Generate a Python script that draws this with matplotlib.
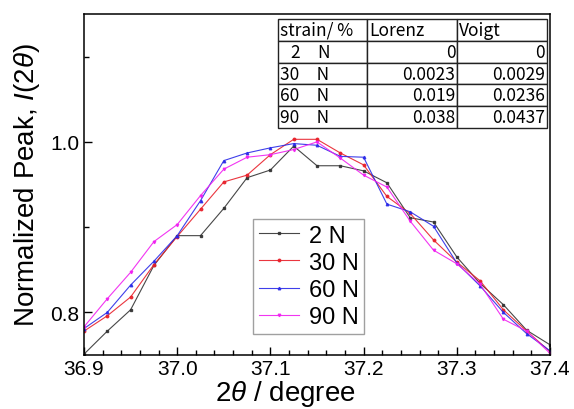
import numpy as np
import matplotlib
matplotlib.use("Agg")
import matplotlib.pyplot as plt
from matplotlib.ticker import MultipleLocator

# ─── Data ──────────────────────────────────────────────────────────────────────

two_theta = [36.900, 36.925, 36.950, 36.975, 37.000, 37.025, 37.050,
             37.075, 37.100, 37.125, 37.150, 37.175, 37.200, 37.225,
             37.250, 37.275, 37.300, 37.325, 37.350, 37.375, 37.400]

peak_2N  = [0.751, 0.778, 0.803, 0.855, 0.890, 0.890, 0.922, 0.958, 0.967,
            0.995, 0.972, 0.972, 0.966, 0.952, 0.911, 0.906, 0.865, 0.834,
            0.809, 0.779, 0.762]
peak_30N = [0.778, 0.796, 0.818, 0.856, 0.889, 0.921, 0.953, 0.961, 0.985,
            1.003, 1.003, 0.987, 0.973, 0.936, 0.916, 0.885, 0.859, 0.837,
            0.803, 0.778, 0.754]
peak_60N = [0.781, 0.800, 0.832, 0.860, 0.890, 0.931, 0.978, 0.987, 0.993,
            0.998, 0.996, 0.983, 0.982, 0.927, 0.918, 0.901, 0.858, 0.831,
            0.800, 0.775, 0.755]
peak_90N = [0.783, 0.816, 0.847, 0.883, 0.903, 0.937, 0.968, 0.982, 0.985,
            0.991, 1.000, 0.981, 0.961, 0.947, 0.907, 0.873, 0.857, 0.833,
            0.792, 0.778, 0.752]

series_labels = ["2 N", "30 N", "60 N", "90 N"]
series_colors = ["#333333", "#e8202a", "#2a2ae8", "#f020f0"]
series_markers = ["s", "o", "^", "v"]

# strain table
table_header = ["strain/ %", "Lorenz", "Voigt"]
table_rows   = [["\u20072\u3000N", "0", "0"],
                ["30\u3000N", "0.0023", "0.0029"],
                ["60\u3000N", "0.019", "0.0236"],
                ["90\u3000N", "0.038", "0.0437"]]

# ─── Plot ──────────────────────────────────────────────────────────────────────

plt.rcParams["font.family"] = ["Liberation Sans", "DejaVu Sans"]
plt.rcParams["mathtext.fontset"] = "custom"
plt.rcParams["mathtext.rm"] = "Liberation Sans"
plt.rcParams["mathtext.it"] = "Liberation Sans:italic"

fig = plt.figure(figsize=(5.74, 4.10), dpi=100)
ax = fig.add_axes([84 / 574, 54 / 410, 466 / 574, 341 / 410])

for y, lab, c, m in zip([peak_2N, peak_30N, peak_60N, peak_90N],
                        series_labels, series_colors, series_markers):
    ax.plot(two_theta, y, color=c, lw=0.8, marker=m, ms=1.8,
            mec=c, mfc=c, label=lab, alpha=0.9)

ax.set_xlim(36.9, 37.4)
ax.set_ylim(0.75, 1.15)
ax.xaxis.set_major_locator(MultipleLocator(0.1))
ax.xaxis.set_minor_locator(MultipleLocator(0.02))
ax.yaxis.set_major_locator(MultipleLocator(0.2))
ax.yaxis.set_minor_locator(MultipleLocator(0.1))
ax.tick_params(which="both", direction="in", top=False, right=False,
               labelsize=15, width=1.0)
ax.tick_params(which="major", length=6)
ax.tick_params(which="minor", length=3.5)
ax.tick_params(axis="x", pad=3)
ax.set_xticklabels([f"{v:.1f}" for v in ax.get_xticks()])
ax.set_yticks([0.8, 1.0])
ax.set_yticklabels(["0.8", "1.0"])
for sp in ax.spines.values():
    sp.set_linewidth(1.1)

ax.set_xlabel(r"2$\theta$ / degree", fontsize=20)
ax.xaxis.set_label_coords(0.433, -0.068)
ax.set_ylabel(r"Normalized Peak, $I$(2$\theta$)", fontsize=20, labelpad=6)

leg = ax.legend(loc="upper left", bbox_to_anchor=(0.363, 0.40),
                fontsize=17, frameon=True, fancybox=False,
                edgecolor="#888888", handlelength=1.7, handletextpad=0.4,
                labelspacing=0.22, borderpad=0.25, borderaxespad=0)
leg.get_frame().set_linewidth(1.0)

tbl = ax.table(cellText=table_rows, colLabels=table_header,
               bbox=[0.416, 0.666, 0.577, 0.319],
               cellLoc="right", colLoc="left")
tbl.auto_set_font_size(False)
for (r, c), cell in tbl.get_celld().items():
    cell.set_linewidth(1.0)
    cell.set_edgecolor("#222222")
    cell.get_text().set_fontsize(12.5)
    cell.get_text().set_fontfamily(["Noto Sans CJK JP", "DejaVu Sans"])
    if c == 0 or r == 0:
        cell.get_text().set_horizontalalignment("left")
    cell.PAD = 0.02

fig.savefig("out.png", dpi=100)
